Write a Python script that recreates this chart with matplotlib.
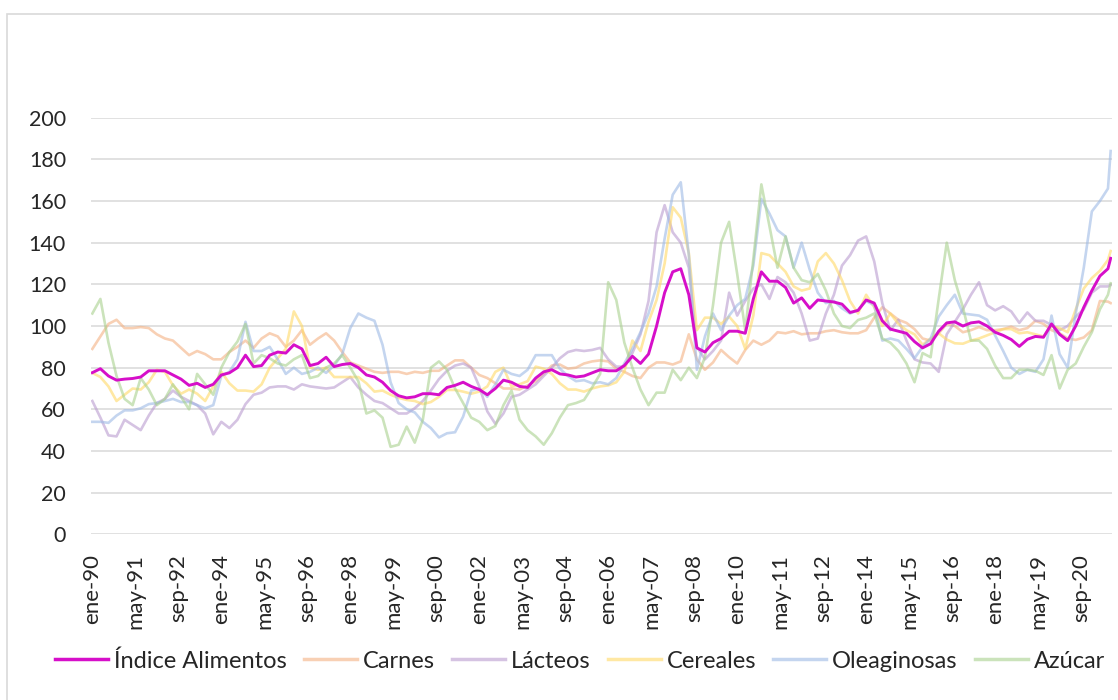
import matplotlib
matplotlib.use("Agg")
import matplotlib.pyplot as plt
from matplotlib.patches import Rectangle

plt.rcParams['font.family'] = ['Lato', 'DejaVu Sans']

# month index (0 = ene-90), quarterly readings plus last month
months = list(range(0, 379, 3)) + [379]

indice = [77.6, 79.5, 76, 74, 74.5, 74.8, 75.5, 78.5, 78.5, 78.5, 76.5, 74.5, 71.5, 72.5, 70.5, 72, 76.5, 77.5, 80, 86, 80.5, 81, 86, 87.5, 87, 91,
          89, 81, 82, 85, 80.5, 81.5, 82, 80, 76.5, 75.5, 73, 69, 66.5, 65.5, 66, 67.5, 67.5, 67, 70.5, 71.5, 73, 71, 69.5, 67, 70, 74,
          73, 71, 70.5, 75, 78, 79, 77, 76.5, 75.5, 76, 77.5, 79, 78.5, 78.5, 81, 85.5, 82, 86.5, 100, 116, 126, 127.5, 115, 89.5, 87.5, 92,
          94, 97.5, 97.5, 96.5, 113, 126, 121.5, 121.5, 118.5, 111, 113.5, 108.5, 112.5, 112, 111.5, 110.5, 106.5, 107.5, 112.5, 111, 102.5, 98.5, 97.5, 96.5, 92.5, 89.5,
          91.5, 97.5, 101.5, 102, 100, 101.5, 102, 100, 97, 95.5, 93.5, 90.2, 93.6, 95, 94.6, 101, 96, 93, 100, 109, 117, 124, 127.5, 132.5]

carnes = [89, 95, 101, 103, 99, 99, 99.5, 99, 96, 94, 93, 89.5, 86, 88, 86.5, 84, 84, 87.5, 90, 93, 89.5, 94, 96.5, 95, 90, 93,
          98, 91, 94, 96.5, 93, 87.5, 82.5, 81, 79.5, 78, 77.5, 78, 78, 77, 78, 77.5, 78.5, 78.5, 81, 83.5, 83.5, 80, 76.5, 75, 72.5, 70,
          70, 69.5, 71.5, 73.5, 77, 81, 81.5, 79.5, 80, 82, 83, 83.5, 83, 79.5, 78, 76, 75, 80, 82.5, 82.5, 81.5, 83, 96, 84, 79, 82.5,
          88.5, 85, 82, 88.5, 93, 91, 93, 97, 96.5, 97.5, 96, 96.5, 96.5, 97.5, 98, 97, 96.5, 96.5, 98, 104, 109, 106, 103, 101.5, 98.5, 94,
          93, 96.5, 101, 100, 97, 98, 99.5, 98, 98, 98.5, 99.7, 98, 99, 102.5, 101, 98, 96.5, 94, 93.3, 94.5, 98, 112, 111.7, 111]

lacteos = [64, 56, 47.5, 47, 55, 52.5, 50, 57, 63, 65, 69, 66, 64, 62, 58, 48, 54, 51, 55, 62.5, 67, 68, 70.5, 71, 71, 69.5,
           72, 71, 70.5, 70, 70.5, 73, 75.5, 70.5, 67, 64, 63, 60.5, 58, 58, 60.5, 64, 69, 74.5, 78.5, 81, 82, 80, 71, 59, 53, 58,
           66, 67, 69.5, 72, 76, 80, 84.5, 87.5, 88.5, 88, 88.5, 89.5, 84, 80.5, 80.5, 87, 96, 112, 145, 158, 145, 140, 128, 90, 84, 88,
           93, 116, 105, 112, 118, 120, 113, 123.5, 121, 116, 106, 93, 94, 106, 115, 129, 134, 141, 143, 131, 111, 98, 103, 93, 84, 82.5,
           82, 78, 96, 102, 108, 115, 121, 110, 107.5, 109.5, 107, 101.5, 106.5, 102.5, 102.5, 100.5, 98, 100, 104.5, 108, 116, 119, 119, 119.7]

cereales = [77.5, 75.5, 71, 64, 67, 70, 69.5, 73, 79, 78, 71.5, 67.5, 69.5, 67.5, 64, 71, 78, 72.5, 69, 69, 68.5, 72, 80, 84.5, 89, 107,
            100, 80, 79, 80, 75.5, 75.5, 75.5, 75.5, 72.5, 68.5, 69, 67, 65.5, 64.5, 64, 62.5, 63.5, 66, 69.3, 69.3, 68.5, 67.5, 68.5, 71, 78, 80,
            71, 72, 73.5, 80.5, 79.5, 77, 72.5, 69.5, 69.5, 68.5, 70, 71, 71.5, 73, 78, 93, 88, 102, 112.5, 130, 157, 152, 135, 98, 104, 104,
            101, 104.5, 100, 89, 105, 135, 134, 130, 126, 119, 117, 118, 131, 135, 130, 122, 112, 106, 115, 109, 100, 106, 101, 98, 96, 91,
            94, 96.5, 93.5, 91.7, 91.5, 93, 94, 95.5, 97, 98.5, 98.5, 96.5, 97, 96, 95, 100, 99, 97, 108, 118, 123, 126.5, 131.7, 136]

oleaginosas = [54, 54, 53.5, 57, 59.5, 59.5, 60.5, 62.5, 63, 64, 65, 63.5, 63.5, 62, 60.5, 62, 76, 78, 84, 102, 88, 88, 90, 84, 77, 80,
               77, 78, 80, 77.5, 81, 86.5, 99, 106, 104, 102.5, 91, 73, 63, 60, 58.5, 54, 51, 46.5, 48.5, 49, 56.5, 69, 70, 66, 72, 79,
               77, 76, 79, 86, 86, 86, 79.5, 76, 73.5, 74, 72.5, 73, 72, 75, 82, 89, 97, 106, 119, 142, 163, 169, 134, 79, 95, 106,
               98, 105, 110, 113, 129, 161, 154, 146, 143, 128, 140, 127, 116, 111, 112, 108.5, 106, 107.7, 112, 110, 93, 94, 93, 89, 84.5, 90,
               94, 104.5, 110, 115, 106, 105.5, 105, 103, 95.5, 88, 80, 77, 79, 78, 84, 105, 86.5, 80, 106, 128, 155, 160, 166, 184]

azucar = [106, 113, 92, 76, 65, 62, 75, 69.5, 62, 65, 72, 66, 60, 77, 72, 67, 80, 87.5, 92.5, 101, 82, 86, 84.5, 82, 81, 84,
          86, 75, 76, 80, 82, 86, 80, 73.5, 58, 59.5, 56, 42, 43, 51.7, 44, 55, 80, 83, 79, 70, 63, 56, 54, 50, 52, 62,
          69, 55, 50, 47, 43, 48.5, 56, 62, 63, 64.5, 70.5, 77, 121, 112.5, 92, 80, 69.5, 62, 68, 68, 79, 74, 80, 75, 85, 110,
          140, 150, 125, 98, 132, 168, 148, 128, 143, 128, 122, 121, 125, 117, 106, 100, 99, 102.9, 104, 106, 94, 92, 88, 82, 73, 87,
          85, 113, 140, 122, 109, 93, 93, 89, 81, 75, 75, 79, 79, 78.5, 76.5, 86, 70, 79, 82, 90, 97, 108, 115, 120.5]

tick_months = list(range(0, 369, 16))
tick_labels = ['ene-90', 'may-91', 'sep-92', 'ene-94', 'may-95', 'sep-96', 'ene-98', 'may-99',
               'sep-00', 'ene-02', 'may-03', 'sep-04', 'ene-06', 'may-07', 'sep-08', 'ene-10',
               'may-11', 'sep-12', 'ene-14', 'may-15', 'sep-16', 'ene-18', 'may-19', 'sep-20']

W, H = 1118, 700
fig = plt.figure(figsize=(W / 100, H / 100), dpi=100)
fig.patches.append(Rectangle((7 / W, -0.1), 1.2, 1 - 14 / H + 0.1, transform=fig.transFigure,
                             fill=False, edgecolor='#D9D9D9', lw=1.2))

ax = fig.add_axes([91 / W, 1 - 534.3 / H, 1021 / W, 416.6 / H])

faint = [('Carnes', carnes, '#F4B183'),
         ('Lácteos', lacteos, '#B99BD0'),
         ('Cereales', cereales, '#FFD966'),
         ('Oleaginosas', oleaginosas, '#9DB9E5'),
         ('Azúcar', azucar, '#A9D18E')]

ax.plot(months, indice, color='#D60FC9', lw=2.1, label='Índice Alimentos', zorder=5)
for name, vals, col in faint:
    ax.plot(months, vals, color=col, lw=1.9, alpha=0.6, label=name, zorder=3)

ax.set_xlim(-0.5, 379.5)
ax.set_ylim(0, 200)
ax.set_yticks(range(0, 201, 20))
ax.grid(axis='y', color='#D9D9D9', lw=1.1)
ax.set_axisbelow(True)
for s in ax.spines.values():
    s.set_visible(False)

ax.set_xticks(tick_months)
ax.set_xticklabels(tick_labels, rotation=90, fontsize=16, color='#262626')
ax.tick_params(axis='x', length=0, pad=14)
ax.tick_params(axis='y', length=0, pad=18, labelsize=15.5, labelcolor='#262626')

leg = fig.legend(loc='center', bbox_to_anchor=(580 / W, 1 - 661 / H), ncol=6, frameon=False,
                 fontsize=17, handlelength=2.25, handletextpad=0.25, columnspacing=0.72)
for line in leg.get_lines():
    line.set_linewidth(2.5)
for text in leg.get_texts():
    text.set_color('#262626')

fig.savefig('out.png', dpi=100)
